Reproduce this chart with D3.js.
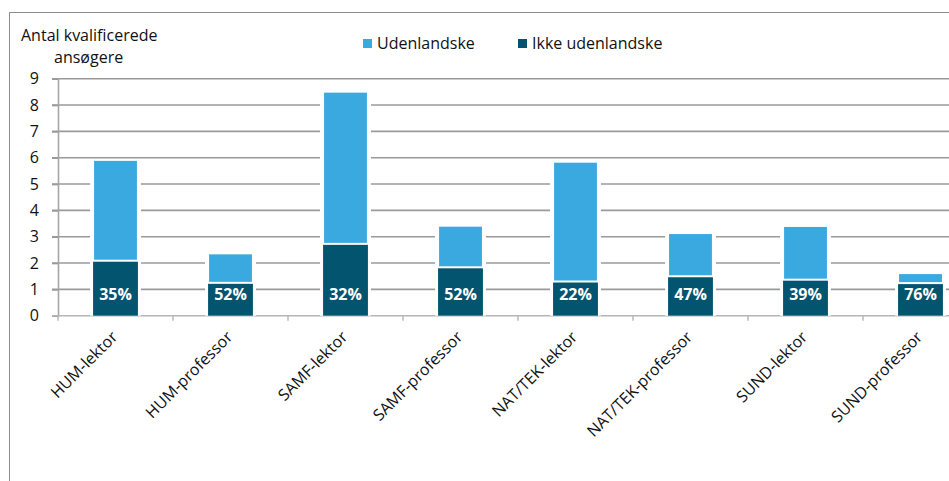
<!DOCTYPE html>
<html>
<head>
<meta charset="utf-8">
<script src="https://cdn.jsdelivr.net/npm/d3@7"></script>
<style>
  html, body { margin: 0; padding: 0; background: #fff; }
  svg { display: block; }
  text { font-family: "Open Sans", "DejaVu Sans", sans-serif; }
</style>
</head>
<body>
<svg id="chart" width="949" height="481"></svg>
<script>
const categories = ["HUM-lektor", "HUM-professor", "SAMF-lektor", "SAMF-professor",
                    "NAT/TEK-lektor", "NAT/TEK-professor", "SUND-lektor", "SUND-professor"];
const ikkeUdenlandske = [2.05, 1.21, 2.69, 1.80, 1.26, 1.46, 1.33, 1.20];
const udenlandske     = [3.83, 1.12, 5.78, 1.58, 4.55, 1.64, 2.04, 0.38];
const pctLabels = ["35%", "52%", "32%", "52%", "22%", "47%", "39%", "76%"];
const yTicks = [0, 1, 2, 3, 4, 5, 6, 7, 8, 9];
const seriesNames = ["Udenlandske", "Ikke udenlandske"];
const colors = { light: "#3AA9E0", dark: "#03546E" };

const svg = d3.select("#chart");

// frame
svg.append("path")
  .attr("d", "M9.5,481 L9.5,12.5 L949,12.5")
  .attr("fill", "none").attr("stroke", "#8c8c8c").attr("stroke-width", 1);

const x = d3.scaleBand().domain(categories).range([58, 978]).paddingInner(0.61).paddingOuter(0.305);
const y = d3.scaleLinear().domain([0, 9]).range([315.7, 78.7]);

// gridlines
svg.append("g").selectAll("line").data(yTicks.filter(d => d > 0)).join("line")
  .attr("x1", 52).attr("x2", 949)
  .attr("y1", d => y(d)).attr("y2", d => y(d))
  .attr("stroke", "#9a9a9a").attr("stroke-width", 1.6);

// y axis
const yAxis = svg.append("g").attr("transform", "translate(58,0)")
  .call(d3.axisLeft(y).tickValues(yTicks).tickSize(6).tickPadding(13).tickFormat(d3.format("d")));
yAxis.select(".domain").attr("stroke", "#a6a6a6").attr("stroke-width", 1.6);
yAxis.selectAll(".tick line").attr("stroke", "#9a9a9a").attr("stroke-width", 1.6);
yAxis.selectAll(".tick text").attr("font-size", 16).attr("fill", "#111")
  .attr("font-family", "'Open Sans', sans-serif");

// x axis line & ticks at band boundaries
const step = x.step();
const boundaries = d3.range(categories.length + 1).map(i => 58 + i * step);
svg.append("line").attr("x1", 52).attr("x2", 949).attr("y1", y(0)).attr("y2", y(0))
  .attr("stroke", "#b5b5b5").attr("stroke-width", 1.6);
svg.append("g").selectAll("line").data(boundaries).join("line")
  .attr("x1", d => d).attr("x2", d => d).attr("y1", y(0)).attr("y2", y(0) + 5)
  .attr("stroke", "#b5b5b5").attr("stroke-width", 1.4);

// bars
const data = categories.map((c, i) => ({ c, dark: ikkeUdenlandske[i], light: udenlandske[i], pct: pctLabels[i] }));
const bars = svg.append("g");
// white halo
bars.selectAll("rect.halo").data(data).join("rect").attr("class", "halo")
  .attr("x", d => x(d.c) - 3).attr("width", x.bandwidth() + 6)
  .attr("y", d => y(d.dark + d.light) - 1).attr("height", d => y(0) - y(d.dark + d.light) + 1)
  .attr("fill", "#fff");
bars.selectAll("rect.light").data(data).join("rect").attr("class", "light")
  .attr("x", d => x(d.c) + 1).attr("width", x.bandwidth() - 2)
  .attr("y", d => y(d.dark + d.light)).attr("height", d => y(d.dark) - y(d.dark + d.light) - 2)
  .attr("fill", colors.light);
bars.selectAll("rect.dark").data(data).join("rect").attr("class", "dark")
  .attr("x", d => x(d.c)).attr("width", x.bandwidth())
  .attr("y", d => y(d.dark)).attr("height", d => y(0) - y(d.dark))
  .attr("fill", colors.dark);
bars.selectAll("text").data(data).join("text")
  .attr("x", d => x(d.c) + x.bandwidth() / 2).attr("y", 299.5)
  .attr("text-anchor", "middle").attr("font-size", 16).attr("font-weight", 700)
  .attr("fill", "#fff").text(d => d.pct);

// x labels
svg.append("g").selectAll("text").data(categories).join("text")
  .attr("transform", d => `translate(${x(d) + x.bandwidth() / 2 + 3},338) rotate(-45)`)
  .attr("text-anchor", "end").attr("font-size", 16).attr("fill", "#111")
  .text(d => d);

// title
svg.append("text").attr("x", 21).attr("y", 41).attr("font-size", 16).attr("fill", "#111").text("Antal kvalificerede");
svg.append("text").attr("x", 54).attr("y", 63).attr("font-size", 16).attr("fill", "#111").text("ansøgere");

// legend
const legendItems = [
  { name: seriesNames[0], color: colors.light, x: 363 },
  { name: seriesNames[1], color: colors.dark, x: 518 }
];
const lg = svg.append("g");
lg.selectAll("rect").data(legendItems).join("rect")
  .attr("x", d => d.x).attr("y", 39).attr("width", 9).attr("height", 9).attr("fill", d => d.color);
lg.selectAll("text").data(legendItems).join("text")
  .attr("x", d => d.x + 14).attr("y", 49).attr("font-size", 16).attr("fill", "#111")
  .text(d => d.name);
</script>
</body>
</html>
